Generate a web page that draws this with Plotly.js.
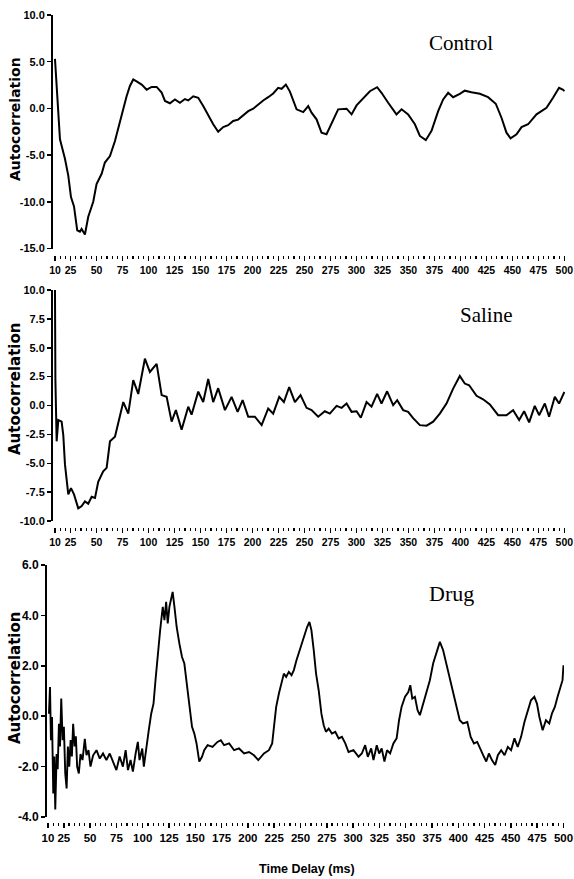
<!DOCTYPE html>
<html>
<head>
<meta charset="utf-8">
<script src="https://cdn.plot.ly/plotly-3.0.1.min.js"></script>
<style>html,body{margin:0;padding:0;background:#fff;}#chart{width:574px;height:879px;}</style>
</head>
<body>
<div id="chart"></div>
<script>
// ---- Data ----
const controlT = [10,11.5,14.8,19.6,22.8,25.4,28.3,31.4,34,35.6,38.8,42,46.8,50,54.9,58,62.9,67.7,70.9,75.7,78.9,82.1,85.3,88.5,93.4,98.2,103,107.8,112.6,115.8,120.6,125.4,130.2,135,138.2,143,147.8,152.6,157.4,162.2,167,171.8,176.6,181.4,186.2,191,195.9,200.7,205.5,210.3,215.1,219.9,224.7,228,232.1,236,242.4,248.8,253.6,256.8,261.6,266.4,271.2,276,282.4,290.5,295.3,300.1,306.5,312.9,319.9,324.1,330.5,338.5,343.4,349.7,356.2,361,366.7,372.2,378.6,383.4,388.2,393,399.4,404.2,410.6,418.7,426.6,434,439.5,444.3,448.2,454,458.8,465.1,473.2,478,482.8,489.1,494.9,498.8,500];
const controlY = [5.3,2.6,-3.3,-5.4,-7.2,-9.5,-10.5,-13.05,-13.2,-12.9,-13.5,-11.6,-10,-8.1,-7.0,-5.8,-5.1,-3.5,-2.05,-0.1,1.3,2.4,3.1,2.9,2.55,2.0,2.3,2.3,1.7,0.8,0.55,0.96,0.6,1.0,0.85,1.3,1.14,0.25,-0.8,-1.7,-2.5,-2.0,-1.8,-1.35,-1.2,-0.8,-0.3,-0.03,0.43,0.85,1.2,1.6,2.2,2.1,2.55,1.8,-0.1,-0.4,0.25,-0.46,-1.17,-2.6,-2.77,-1.7,-0.1,-0.03,-0.64,0.32,1.14,1.84,2.27,1.67,0.6,-0.64,-0.1,-0.64,-1.7,-2.95,-3.4,-2.4,-0.3,0.96,1.67,1.2,1.56,1.9,1.74,1.56,1.2,0.5,-1.0,-2.6,-3.2,-2.77,-2.0,-1.7,-0.64,-0.3,0.07,1.14,2.2,2.0,1.84];

const salineT = [10,10.4,11.6,13.2,16.4,18,19.6,22.8,25.4,28.3,32.4,35.7,38.8,42,45.3,48.5,51.6,56.4,59.7,62.9,67.7,71.8,75.7,80.5,85.3,90.1,93.3,96.5,101.3,107.8,112.6,117.4,122.2,126.3,131.8,138.2,141.4,147.8,152.6,157.4,162.2,167,173.5,179.9,185.7,190.5,195.9,202.3,208.8,215.1,219.9,225.7,230.2,235.3,240.8,246.2,252,256.8,263.2,269.6,274.4,280.9,285.7,290.5,295.3,300.1,304.2,309.7,314.5,319.9,324.1,329.5,335.3,339.2,344.9,349.7,354.5,361,367.4,373.8,380.2,386.6,393,399.4,404.2,408.4,415.5,421.8,428.3,436.3,444.3,450.7,456.5,461.3,466.1,471.5,475.7,481.2,485.3,490.8,494.9,500];
const salineY = [10.0,2.3,-3.1,-1.26,-1.4,-2.56,-5.1,-7.7,-7.15,-7.7,-8.9,-8.7,-8.3,-8.5,-7.9,-8.0,-6.6,-5.7,-5.4,-3.1,-2.7,-1.1,0.3,-0.7,2.2,1.0,2.6,4.05,2.9,3.6,0.9,0.75,-1.4,-0.4,-2.1,-0.1,-0.8,1.2,0.3,2.3,0.3,1.5,-0.4,0.75,-0.55,0.46,-0.97,-0.97,-1.7,-0.26,-0.7,0.75,0.3,1.6,0.3,0.9,-0.2,-0.4,-0.97,-0.5,-0.7,-0.03,-0.2,0.17,-0.55,-0.5,-1.06,0.3,-0.1,1.0,0.17,1.23,0.03,0.46,-0.4,-0.55,-1.1,-1.7,-1.75,-1.4,-0.7,0.17,1.46,2.56,1.9,1.75,0.84,0.54,0.09,-0.84,-0.84,-0.4,-1.26,-0.5,-1.46,-0.03,-0.84,0.17,-0.97,0.75,0.17,1.18];

const drugT = [10.9,11.9,12.8,13.8,15,16,16.9,18.2,19.2,20.4,21.4,22.6,23.9,25.1,26.4,27.7,28.9,30.2,31.5,32.7,33.9,35.3,36.5,37.7,39.3,40.9,42.8,45,46.6,48.5,50.4,52.9,56.1,59.2,62.3,65.5,68.7,71.8,75,78.1,81.2,83.8,86,88.5,90.7,93.3,95.4,97,99.6,101.1,103.4,105.8,108.1,110.3,112.2,114.4,116.6,119.1,120.7,122.3,123.8,125.4,127,128.5,130.2,132.3,134.9,137.4,139.6,141.8,144.3,146.9,149.1,151.2,153.8,156.4,158.5,161.7,166.4,171.1,174.3,177.4,182.2,186.9,191.6,196.4,201.1,205.8,209.9,215.3,220,223.1,224.8,226.9,229.5,232,234.2,236.4,238.9,241.5,243.7,246.2,250,253.1,256.3,258.5,260.4,262.6,264.8,267.3,269.9,272.1,274.2,276.8,279.9,283.1,286.3,289.4,292.6,295.7,300.4,305.2,308.3,311.5,314,317.2,319.4,322.5,324.8,327.2,329.8,332.3,335.2,338.3,341.4,343.7,346.1,349.4,352.5,354.4,356.3,358.8,361.3,363.5,366.7,369.8,373,376.1,379.3,382.5,385.6,388.7,391.9,395,398.2,401.4,404.5,408.6,411.8,414.9,418,421.3,424.4,426.6,429.1,432,435.1,437.6,440.8,444,447.1,450.2,453.4,456.5,459.7,462.9,466,469.1,472.3,474.8,477.1,480.2,483.3,486.5,489,491.8,494.4,496.9,499.1,500];
const drugY = [0.1,1.16,-0.95,-0.03,-3.07,-1.6,-3.7,-1.5,-2.1,-0.3,-1.2,0.7,-0.95,-0.42,-2.27,-2.87,-1.2,-2.0,-0.95,-1.6,-0.3,-1.2,-0.8,-2.0,-2.27,-1.5,-1.74,-0.9,-1.55,-1.35,-2.0,-1.55,-1.35,-1.68,-1.48,-1.74,-1.48,-1.8,-2.14,-1.6,-2.0,-1.35,-2.14,-1.74,-2.2,-1.48,-1.02,-1.74,-1.28,-2.0,-1.2,-0.55,0.1,0.5,1.43,2.49,3.41,4.34,3.81,4.54,3.68,4.34,4.6,4.93,4.34,3.54,2.88,2.35,2.09,1.3,0.5,-0.42,-0.69,-1.08,-1.8,-1.61,-1.35,-1.15,-1.22,-1.02,-0.95,-1.15,-1.08,-1.35,-1.28,-1.48,-1.42,-1.55,-1.74,-1.48,-1.35,-1.08,-0.42,0.37,0.9,1.3,1.69,1.56,1.76,1.63,1.83,2.22,2.75,3.15,3.54,3.74,3.41,2.62,1.69,1.03,0.1,-0.36,-0.62,-0.49,-0.69,-0.62,-0.88,-0.82,-1.08,-1.42,-1.35,-1.61,-1.48,-1.15,-1.61,-1.28,-1.74,-1.15,-1.48,-1.28,-1.8,-1.35,-1.48,-1.08,-0.88,-0.16,0.37,0.77,0.96,1.23,0.7,0.77,0.24,0.04,0.5,0.9,1.43,2.09,2.49,2.95,2.62,2.09,1.43,0.9,0.44,-0.16,-0.29,-0.23,-0.82,-1.08,-1.02,-1.35,-1.61,-1.8,-1.48,-1.74,-1.94,-1.55,-1.35,-1.55,-1.22,-1.35,-0.88,-1.22,-0.82,-0.23,0.24,0.63,0.77,0.5,-0.03,-0.56,-0.16,-0.29,0.1,0.37,0.77,1.16,1.43,2.02];

const xTickVals = [10,25,50,75,100,125,150,175,200,225,250,275,300,325,350,375,400,425,450,475,500];
const xTickText = xTickVals.map(String);
const controlYTicks = [-15,-10,-5,0,5,10];
const salineYTicks = [-10,-7.5,-5,-2.5,0,2.5,5,7.5,10];
const drugYTicks = [-4,-2,0,2,4,6];
const panelNames = ['Control','Saline','Drug'];
const yTitle = 'Autocorrelation';
const xTitle = 'Time Delay (ms)';

// ---- Layout helpers (pixel -> paper) ----
const W = 574, H = 879;
const px = v => v / W;
const py = v => 1 - v / H;
const narrow = 'Liberation Sans, Arial, sans-serif';

function xAxis(dom, range, posPx, fsize) {
  return {
    domain: dom, range: range, anchor: 'free', position: py(posPx),
    showline: false, showgrid: false, zeroline: false,
    ticks: 'outside', ticklen: 5, tickwidth: 1.5, tickcolor: '#000',
    tickmode: 'array', tickvals: xTickVals, ticktext: xTickText,
    tickangle: 0, ticklabeloverflow: 'allow',
    tickfont: {family: narrow, size: fsize, color: '#000', weight: 'bold'},
    minor: {ticks: 'outside', ticklen: 3, tickwidth: 1.2, tickcolor: '#000', dtick: 5, tick0: 0, showgrid: false},
    fixedrange: true
  };
}
function yAxis(dom, range, ticks, anchor, fsize) {
  return {
    domain: dom, range: range, anchor: anchor,
    showline: true, linewidth: 2, linecolor: '#000',
    showgrid: false, zeroline: false,
    ticks: 'outside', ticklen: 4, tickwidth: 1.5, tickcolor: '#000',
    tickmode: 'array', tickvals: ticks, ticktext: ticks.map(v => v.toFixed(1)),
    ticklabeloverflow: 'allow',
    tickfont: {family: narrow, size: fsize, color: '#000', weight: 'bold'},
    fixedrange: true
  };
}

const lineStyle = w => ({color: '#000', width: w, shape: 'linear'});
const traces = [
  {x: controlT, y: controlY, xaxis: 'x', yaxis: 'y', mode: 'lines', line: lineStyle(2), name: panelNames[0], hoverinfo: 'skip'},
  {x: salineT, y: salineY, xaxis: 'x2', yaxis: 'y2', mode: 'lines', line: lineStyle(2), name: panelNames[1], hoverinfo: 'skip'},
  {x: drugT, y: drugY, xaxis: 'x3', yaxis: 'y3', mode: 'lines', line: lineStyle(1.9), name: panelNames[2], hoverinfo: 'skip'}
];

const serif = 'Liberation Serif, Times New Roman, serif';
const boldSans = 'DejaVu Sans, Liberation Sans, sans-serif';
const annotations = [
  {text: panelNames[0], x: px(461), y: py(43), font: {family: serif, size: 21, color: '#000'}},
  {text: panelNames[1], x: px(486), y: py(315), font: {family: serif, size: 21, color: '#000'}},
  {text: panelNames[2], x: px(451), y: py(593), font: {family: serif, size: 22, color: '#000'}},
  {text: yTitle, x: px(15), y: py(119), textangle: -90, font: {family: boldSans, size: 14, color: '#000', weight: 'bold'}},
  {text: yTitle, x: px(15), y: py(389), textangle: -90, font: {family: boldSans, size: 15, color: '#000', weight: 'bold'}},
  {text: yTitle, x: px(15), y: py(678), textangle: -90, font: {family: boldSans, size: 15, color: '#000', weight: 'bold'}},
  {text: xTitle, x: px(307), y: py(869), font: {family: narrow, size: 12.5, color: '#000', weight: 'bold'}}
].map(a => Object.assign({xref: 'paper', yref: 'paper', showarrow: false, xanchor: 'center', yanchor: 'middle'}, a));

const layout = {
  width: W, height: H,
  margin: {l: 0, r: 0, t: 0, b: 0, pad: 0},
  paper_bgcolor: '#fff', plot_bgcolor: '#fff',
  showlegend: false,
  xaxis: xAxis([px(53), px(565)], [8.1, 500.6], 255, 10.5),
  yaxis: yAxis([py(248.5), py(15)], [-15, 10], controlYTicks, 'x', 11),
  xaxis2: xAxis([px(53), px(565)], [8.1, 500.6], 527, 10.5),
  yaxis2: yAxis([py(521), py(290)], [-10, 10], salineYTicks, 'x2', 11),
  xaxis3: xAxis([px(47), px(564)], [9.05, 500.5], 822, 11.5),
  yaxis3: yAxis([py(817), py(565)], [-4, 6], drugYTicks, 'x3', 12),
  annotations: annotations
};

Plotly.newPlot('chart', traces, layout, {staticPlot: true, displayModeBar: false});
</script>
</body>
</html>
